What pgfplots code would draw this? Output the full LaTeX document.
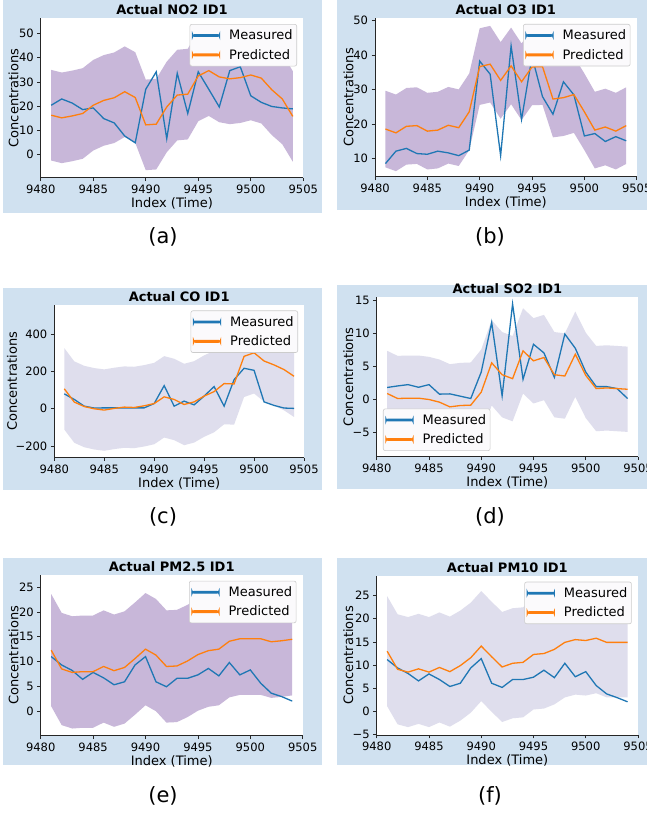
\documentclass[border=0pt]{standalone}
\usepackage{pgfplots}
\pgfplotsset{compat=1.18}
\usepackage{pgfplotstable}
\usepackage{fontspec}
\setmainfont{DejaVu Sans}
\definecolor{mblue}{HTML}{1F77B4}
\definecolor{morange}{HTML}{FF7F0E}
\definecolor{bandP}{HTML}{C8B7D9}
\definecolor{bandL}{HTML}{DFDEED}
\definecolor{bgblue}{HTML}{D0E1F0}
\definecolor{axisgray}{HTML}{262626}
\definecolor{legframe}{HTML}{CCCCCC}
\definecolor{legfill}{HTML}{FBFAFC}

\pgfplotstableread{
x meas pred
9481 20.4 16.3
9482 23.0 15.2
9483 21.3 16.0
9484 18.6 17.0
9485 19.3 20.4
9486 14.9 22.4
9487 13.1 23.5
9488 7.7 26.0
9489 4.9 23.6
9490 27.0 12.3
9491 34.2 12.6
9492 6.6 19.7
9493 33.6 24.6
9494 17.0 25.0
9495 34.2 32.5
9496 27.0 34.7
9497 19.7 32.1
9498 34.7 31.3
9499 36.3 31.8
9500 24.3 32.9
9501 21.6 31.6
9502 19.9 26.8
9503 19.3 23.0
9504 18.9 15.8
}\tNO
\pgfplotstableread{
x meas pred
9481 8.6 18.6
9482 12.2 17.5
9483 13.0 19.4
9484 11.5 19.6
9485 11.3 18.0
9486 12.2 18.3
9487 11.7 19.7
9488 10.9 19.0
9489 12.5 23.6
9490 38.3 36.7
9491 34.5 37.4
9492 10.9 32.7
9493 42.7 36.9
9494 21.4 32.3
9495 39.6 36.6
9496 28.0 36.7
9497 22.9 27.3
9498 32.3 27.7
9499 28.5 28.6
9500 16.6 23.6
9501 17.3 18.3
9502 15.0 19.2
9503 16.4 18.0
9504 15.2 19.6
}\tOT
\pgfplotstableread{
x meas pred
9481 80 107
9482 50 36
9483 14 12
9484 4 0
9485 5 -7
9486 5 2
9487 5 9
9488 5 7
9489 5 16
9490 28 28
9491 124 64
9492 14 50
9493 41 23
9494 21 37
9495 68 68
9496 119 92
9497 14 135
9498 156 133
9499 217 281
9500 206 300
9501 37 256
9502 18 235
9503 4 210
9504 2 174
}\tCO
\pgfplotstableread{
x meas pred
9481 1.77 0.86
9482 2.0 0.1
9483 2.2 0.15
9484 1.8 0.15
9485 2.2 -0.05
9486 0.76 -0.45
9487 0.8 -1.16
9488 0.45 -0.96
9489 0.1 -0.9
9490 4.1 1.06
9491 11.6 5.5
9492 0.5 3.7
9493 14.4 3.1
9494 3.0 7.3
9495 8.3 5.8
9496 7.0 6.3
9497 3.3 3.7
9498 9.85 3.5
9499 7.7 6.8
9500 4.1 3.6
9501 1.9 1.6
9502 1.9 1.7
9503 1.6 1.6
9504 0.1 1.5
}\tSO
\pgfplotstableread{
x meas pred
9481 11.0 12.3
9482 9.3 8.5
9483 8.2 7.8
9484 6.4 7.95
9485 7.8 7.95
9486 6.7 9.0
9487 5.3 8.15
9488 5.9 8.8
9489 9.3 10.6
9490 11.0 12.5
9491 5.9 11.3
9492 4.9 9.0
9493 6.6 9.1
9494 6.6 10.1
9495 7.3 11.4
9496 8.6 12.2
9497 7.1 12.5
9498 9.8 14.1
9499 7.3 14.6
9500 8.3 14.6
9501 5.6 14.6
9502 3.6 14.0
9503 2.9 14.2
9504 2.0 14.5
}\tPMa
\pgfplotstableread{
x meas pred
9481 11.2 13.0
9482 9.4 9.1
9483 8.2 8.5
9484 6.6 9.2
9485 8.1 8.5
9486 6.9 9.5
9487 5.4 8.6
9488 6.1 9.9
9489 9.4 11.6
9490 11.4 14.1
9491 6.1 11.8
9492 5.2 9.6
9493 6.9 10.4
9494 6.9 10.6
9495 7.4 12.3
9496 8.9 12.5
9497 7.3 13.4
9498 10.4 14.9
9499 7.5 15.5
9500 8.6 15.3
9501 5.6 15.8
9502 3.8 14.9
9503 3.0 14.9
9504 2.1 14.9
}\tPMb

\pgfplotsset{
  panel/.style={
    scale only axis,
    xmin=9480, xmax=9505,
    xtick={9480,9485,9490,9495,9500,9505},
    xticklabels={9480,9485,9490,9495,9500,9505},
    axis x line*=bottom, axis y line*=left,
    axis line style={draw=axisgray, line width=0.8pt, -},
    tick align=outside, major tick length=3.5pt,
    tick style={draw=axisgray, line width=0.8pt},
    minor tick num=0,
    ticklabel style={font=\fontsize{11.5}{13}\selectfont, text=black},
    xlabel={Index (Time)}, ylabel={Concentrations},
    xlabel style={at={(axis description cs:0.5,0)}, anchor=base, yshift=-30pt, font=\fontsize{13}{15}\selectfont},
    ylabel style={anchor=base, font=\fontsize{13}{15}\selectfont},
    every axis title shift=0pt,
    title style={at={(axis description cs:0.5,1)}, anchor=base, yshift=3.5pt, font=\bfseries\fontsize{13}{15}\selectfont},
    axis background/.style={fill=white},
    legend cell align=left,
    legend style={draw=legframe, fill=legfill,
      rounded corners=2pt, font=\fontsize{13}{16}\selectfont,
      inner xsep=2pt, inner ysep=3.5pt, row sep=4pt, line width=0.6pt,
      /tikz/every odd column/.append style={column sep=7pt}},
  },
  ml/.style={draw=mblue, line width=1.3pt,
    legend image code/.code={\fill[mblue] (0pt,-0.75pt) rectangle (27pt,0.75pt);}},
  pl/.style={draw=morange, line width=1.3pt,
    legend image code/.code={\fill[morange] (0pt,-0.75pt) rectangle (27pt,0.75pt);}},
}

\begin{document}
\begin{tikzpicture}
\useasboundingbox (0pt,0pt) rectangle (647pt,813pt);
\fill[white] (0pt,0pt) rectangle (647pt,813pt);
\fill[bgblue] (3pt,600pt) rectangle (322pt,813pt);
\fill[bgblue] (337pt,603pt) rectangle (647pt,813pt);
\fill[bgblue] (3pt,323pt) rectangle (322pt,525pt);
\fill[bgblue] (337pt,324pt) rectangle (647pt,528pt);
\fill[bgblue] (3pt,48pt) rectangle (322pt,255pt);
\fill[bgblue] (337pt,48pt) rectangle (647pt,255pt);

% (a) NO2
\begin{axis}[panel, at={(40.7pt,635.3pt)}, anchor=south west,
  width=262.6pt, height=159.4pt,
  ymin=-9.5, ymax=56.3, ytick={0,10,20,30,40,50}, yticklabels={0,10,20,30,40,50},
  ylabel style={at={(axis description cs:-0.085,0.5)}},
  title={Actual NO2 ID1},
  legend style={at={(0.976,0.964)}, anchor=north east}]
\addplot[fill=bandP, draw=none, forget plot] coordinates {
(9481,35.0)(9482,33.9)(9483,34.7)(9484,35.7)(9485,39.1)(9486,41.1)(9487,42.2)(9488,44.7)
(9489,42.3)(9490,31.0)(9491,31.3)(9492,38.4)(9493,43.3)(9494,43.7)(9495,51.2)(9496,53.4)
(9497,50.8)(9498,50.0)(9499,50.5)(9500,51.6)(9501,50.3)(9502,45.5)(9503,41.7)(9504,34.5)
(9504,-2.9)(9503,4.3)(9502,8.1)(9501,12.9)(9500,14.2)(9499,13.1)(9498,12.6)(9497,13.4)
(9496,16.0)(9495,13.8)(9494,6.3)(9493,5.9)(9492,1.0)(9491,-6.1)(9490,-6.4)(9489,4.9)
(9488,7.3)(9487,4.8)(9486,3.7)(9485,1.7)(9484,-1.7)(9483,-2.7)(9482,-3.5)(9481,-2.4)} -- cycle;
\addplot[ml] table[x=x,y=meas]{\tNO};
\addlegendentry{Measured}
\addplot[pl] table[x=x,y=pred]{\tNO};
\addlegendentry{Predicted}
\end{axis}

% (b) O3
\begin{axis}[panel, at={(375pt,636.3pt)}, anchor=south west,
  width=261.7pt, height=158.4pt,
  ymin=4.8, ymax=50.7, ytick={10,20,30,40,50}, yticklabels={10,20,30,40,50},
  ylabel style={at={(axis description cs:-0.083,0.5)}},
  title={Actual O3 ID1},
  legend style={at={(0.976,0.964)}, anchor=north east}]
\addplot[fill=bandP, draw=none, forget plot] coordinates {
(9481,29.7)(9482,28.6)(9483,30.5)(9484,30.7)(9485,29.1)(9486,29.4)(9487,30.8)(9488,30.1)
(9489,34.7)(9490,47.8)(9491,48.5)(9492,43.8)(9493,48.0)(9494,43.4)(9495,47.7)(9496,47.8)
(9497,38.4)(9498,38.8)(9499,39.7)(9500,34.7)(9501,29.4)(9502,30.3)(9503,29.1)(9504,30.7)
(9504,8.5)(9503,6.9)(9502,8.1)(9501,7.2)(9500,12.5)(9499,17.5)(9498,16.6)(9497,16.2)
(9496,25.6)(9495,25.5)(9494,21.2)(9493,25.8)(9492,21.6)(9491,26.3)(9490,25.6)(9489,12.5)
(9488,7.9)(9487,8.6)(9486,7.2)(9485,6.9)(9484,8.5)(9483,8.3)(9482,6.4)(9481,7.5)} -- cycle;
\addplot[ml] table[x=x,y=meas]{\tOT};
\addlegendentry{Measured}
\addplot[pl] table[x=x,y=pred]{\tOT};
\addlegendentry{Predicted}
\end{axis}

% (c) CO
\begin{axis}[panel, at={(54.3pt,355.3pt)}, anchor=south west,
  width=249.7pt, height=152.7pt,
  ymin=-262, ymax=556, ytick={-200,0,200,400}, yticklabels={−200,0,200,400},
  ylabel style={at={(axis description cs:-0.15,0.5)}},
  title={Actual CO ID1},
  legend style={at={(0.976,0.964)}, anchor=north east}]
\addplot[fill=bandL, draw=none, forget plot] coordinates {
(9481,325)(9482,254)(9483,230)(9484,218)(9485,211)(9486,220)(9487,227)(9488,225)
(9489,234)(9490,246)(9491,282)(9492,268)(9493,241)(9494,255)(9495,286)(9496,310)
(9497,353)(9498,351)(9499,499)(9500,518)(9501,474)(9502,453)(9503,428)(9504,392)
(9504,-44)(9503,-8)(9502,17)(9501,38)(9500,82)(9499,63)(9498,-85)(9497,-83)
(9496,-126)(9495,-150)(9494,-181)(9493,-195)(9492,-168)(9491,-154)(9490,-190)(9489,-202)
(9488,-211)(9487,-209)(9486,-216)(9485,-225)(9484,-218)(9483,-206)(9482,-182)(9481,-111)} -- cycle;
\addplot[ml] table[x=x,y=meas]{\tCO};
\addlegendentry{Measured}
\addplot[pl] table[x=x,y=pred]{\tCO};
\addlegendentry{Predicted}
\end{axis}

% (d) SO2
\begin{axis}[panel, at={(376.7pt,356.3pt)}, anchor=south west,
  width=261.3pt, height=160pt,
  ymin=-8.7, ymax=15.5, ytick={-5,0,5,10,15}, yticklabels={−5,0,5,10,15},
  ylabel style={at={(axis description cs:-0.09,0.5)}},
  title={Actual SO2 ID1},
  legend style={at={(0.024,0.036)}, anchor=south west}]
\addplot[fill=bandL, draw=none, forget plot] coordinates {
(9481,7.31)(9482,6.55)(9483,6.6)(9484,6.6)(9485,6.4)(9486,6.0)(9487,5.29)(9488,5.49)
(9489,5.55)(9490,7.51)(9491,11.95)(9492,10.15)(9493,9.55)(9494,13.75)(9495,12.25)(9496,12.75)
(9497,10.15)(9498,9.95)(9499,13.25)(9500,10.05)(9501,8.05)(9502,8.15)(9503,8.05)(9504,7.95)
(9504,-4.95)(9503,-4.85)(9502,-4.75)(9501,-4.85)(9500,-2.85)(9499,0.35)(9498,-2.95)(9497,-2.75)
(9496,-0.15)(9495,-0.65)(9494,0.85)(9493,-3.35)(9492,-2.75)(9491,-0.95)(9490,-5.39)(9489,-7.35)
(9488,-7.41)(9487,-7.61)(9486,-6.9)(9485,-6.5)(9484,-6.3)(9483,-6.3)(9482,-6.35)(9481,-5.59)} -- cycle;
\addplot[ml] table[x=x,y=meas]{\tSO};
\addlegendentry{Measured}
\addplot[pl] table[x=x,y=pred]{\tSO};
\addlegendentry{Predicted}
\end{axis}

% (e) PM2.5
\begin{axis}[panel, at={(40.7pt,77.3pt)}, anchor=south west,
  width=262pt, height=160.7pt,
  ymin=-5, ymax=27.5, ytick={0,5,10,15,20,25}, yticklabels={0,5,10,15,20,25},
  ylabel style={at={(axis description cs:-0.0855,0.5)}},
  title={Actual PM2.5 ID1},
  legend style={at={(0.976,0.964)}, anchor=north east}]
\addplot[fill=bandP, draw=none, forget plot] coordinates {
(9481,23.65)(9482,19.85)(9483,19.15)(9484,19.3)(9485,19.3)(9486,20.35)(9487,19.5)(9488,20.15)
(9489,21.95)(9490,23.85)(9491,22.65)(9492,20.35)(9493,20.45)(9494,21.45)(9495,22.75)(9496,23.55)
(9497,23.85)(9498,25.45)(9499,25.95)(9500,25.95)(9501,25.95)(9502,25.35)(9503,25.55)(9504,25.85)
(9504,3.15)(9503,2.85)(9502,2.65)(9501,3.25)(9500,3.25)(9499,3.25)(9498,2.75)(9497,1.15)
(9496,0.85)(9495,0.05)(9494,-1.25)(9493,-2.25)(9492,-2.35)(9491,-0.05)(9490,1.15)(9489,-0.75)
(9488,-2.55)(9487,-3.2)(9486,-2.35)(9485,-3.4)(9484,-3.4)(9483,-3.55)(9482,-2.85)(9481,0.95)} -- cycle;
\addplot[ml] table[x=x,y=meas]{\tPMa};
\addlegendentry{Measured}
\addplot[pl] table[x=x,y=pred]{\tPMa};
\addlegendentry{Predicted}
\end{axis}

% (f) PM10
\begin{axis}[panel, at={(376.7pt,78pt)}, anchor=south west,
  width=261.3pt, height=159pt,
  ymin=-5.05, ymax=29.2, ytick={-5,0,5,10,15,20,25}, yticklabels={−5,0,5,10,15,20,25},
  ylabel style={at={(axis description cs:-0.09,0.5)}},
  title={Actual PM10 ID1},
  legend style={at={(0.976,0.964)}, anchor=north east}]
\addplot[fill=bandL, draw=none, forget plot] coordinates {
(9481,24.85)(9482,20.95)(9483,20.35)(9484,21.05)(9485,20.35)(9486,21.35)(9487,20.45)(9488,21.75)
(9489,23.45)(9490,25.95)(9491,23.65)(9492,21.45)(9493,22.25)(9494,22.45)(9495,24.15)(9496,24.35)
(9497,25.25)(9498,26.75)(9499,27.35)(9500,27.15)(9501,27.65)(9502,26.75)(9503,26.75)(9504,26.75)
(9504,3.05)(9503,3.05)(9502,3.05)(9501,3.95)(9500,3.45)(9499,3.65)(9498,3.05)(9497,1.55)
(9496,0.65)(9495,0.45)(9494,-1.25)(9493,-1.45)(9492,-2.25)(9491,-0.05)(9490,2.25)(9489,-0.25)
(9488,-1.95)(9487,-3.25)(9486,-2.35)(9485,-3.35)(9484,-2.65)(9483,-3.35)(9482,-2.75)(9481,1.15)} -- cycle;
\addplot[ml] table[x=x,y=meas]{\tPMb};
\addlegendentry{Measured}
\addplot[pl] table[x=x,y=pred]{\tPMb};
\addlegendentry{Predicted}
\end{axis}

\node[font=\fontsize{21}{24}\selectfont] at (163pt,576pt) {(a)};
\node[font=\fontsize{21}{24}\selectfont] at (490pt,576pt) {(b)};
\node[font=\fontsize{21}{24}\selectfont] at (163pt,296pt) {(c)};
\node[font=\fontsize{21}{24}\selectfont] at (490pt,296pt) {(d)};
\node[font=\fontsize{21}{24}\selectfont] at (163pt,17pt) {(e)};
\node[font=\fontsize{21}{24}\selectfont] at (490pt,17pt) {(f)};
\end{tikzpicture}
\end{document}
